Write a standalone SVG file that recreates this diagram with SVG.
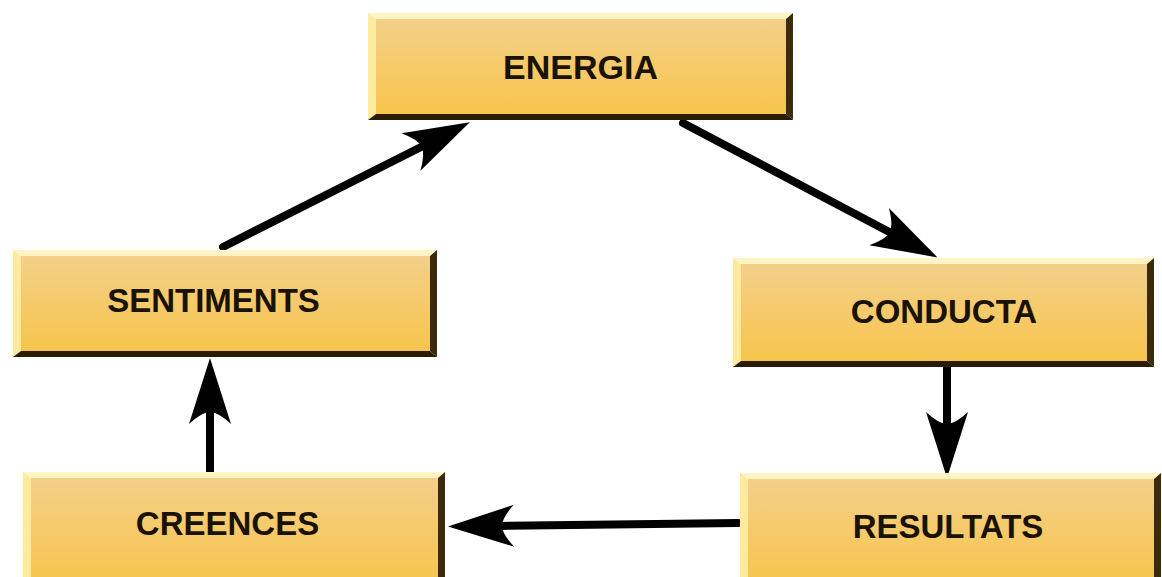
<svg xmlns="http://www.w3.org/2000/svg" width="1162" height="577" viewBox="0 0 1162 577">
<style>
.face{fill:url(#faceGrad)}
.bt{fill:#fff4c4}
.bl{fill:#fcea9e}
.bb{fill:#2a1b04}
.br{fill:#3d2a08}
.lbl{font-family:"Liberation Sans",Arial,sans-serif;font-weight:bold;font-size:33px;fill:#1b1206;text-anchor:middle}
.conn{stroke:#000;stroke-width:8;fill:none;stroke-linecap:round;marker-end:url(#ah)}
</style>
<defs>
<linearGradient id="faceGrad" x1="0" y1="0" x2="0" y2="1">
<stop offset="0" stop-color="#f3d08a"/>
<stop offset="0.5" stop-color="#f5ca6a"/>
<stop offset="1" stop-color="#f7c54c"/>
</linearGradient>
<marker id="ah" viewBox="0 -22 68 44" refX="20" refY="0" markerWidth="68" markerHeight="44" markerUnits="userSpaceOnUse" orient="auto">
<path d="M68,0 L2,-21 Q14,-8 14,0 Q14,8 2,21 Z" fill="#000"/>
</marker>
</defs>
<rect width="1162" height="577" fill="#fff"/>

<g id="connectors">
<path class="conn" d="M223,247 L427,144"/>
<path class="conn" d="M683,123 L895,235"/>
<path class="conn" d="M947,366 L947,430"/>
<path class="conn" d="M738,523 L496,526"/>
<path class="conn" d="M210,472 L210,406"/>
</g>

<g id="node-energia">
<rect class="face" x="376" y="19" width="410" height="95"/>
<polygon class="bt" points="368,13 793,13 786,19 376,19"/>
<polygon class="bl" points="368,13 376,19 376,114 368,120"/>
<polygon class="bb" points="368,120 376,114 786,114 793,120"/>
<polygon class="br" points="793,13 793,120 786,114 786,19"/>
<text class="lbl" x="580.5" y="79" style="font-size:34px">ENERGIA</text>
</g>

<g id="node-sentiments">
<rect class="face" x="21" y="256" width="409" height="95"/>
<polygon class="bt" points="13,250 437,250 430,256 21,256"/>
<polygon class="bl" points="13,250 21,256 21,351 13,357"/>
<polygon class="bb" points="13,357 21,351 430,351 437,357"/>
<polygon class="br" points="437,250 437,357 430,351 430,256"/>
<text class="lbl" x="213.5" y="312">SENTIMENTS</text>
</g>

<g id="node-conducta">
<rect class="face" x="741" y="264" width="406" height="97"/>
<polygon class="bt" points="733,258 1154,258 1147,264 741,264"/>
<polygon class="bl" points="733,258 741,264 741,361 733,367"/>
<polygon class="bb" points="733,367 741,361 1147,361 1154,367"/>
<polygon class="br" points="1154,258 1154,367 1147,361 1147,264"/>
<text class="lbl" x="944" y="323">CONDUCTA</text>
</g>

<g id="node-creences">
<rect class="face" x="31" y="478" width="407" height="106"/>
<polygon class="bt" points="23,472 445,472 438,478 31,478"/>
<polygon class="bl" points="23,472 31,478 31,584 23,590"/>
<polygon class="br" points="445,472 445,590 438,584 438,478"/>
<text class="lbl" x="227.5" y="535">CREENCES</text>
</g>

<g id="node-resultats">
<rect class="face" x="748" y="479" width="406" height="105"/>
<polygon class="bt" points="740,473 1161,473 1154,479 748,479"/>
<polygon class="bl" points="740,473 748,479 748,584 740,590"/>
<polygon class="br" points="1161,473 1161,590 1154,584 1154,479"/>
<text class="lbl" x="948" y="538">RESULTATS</text>
</g>
</svg>
